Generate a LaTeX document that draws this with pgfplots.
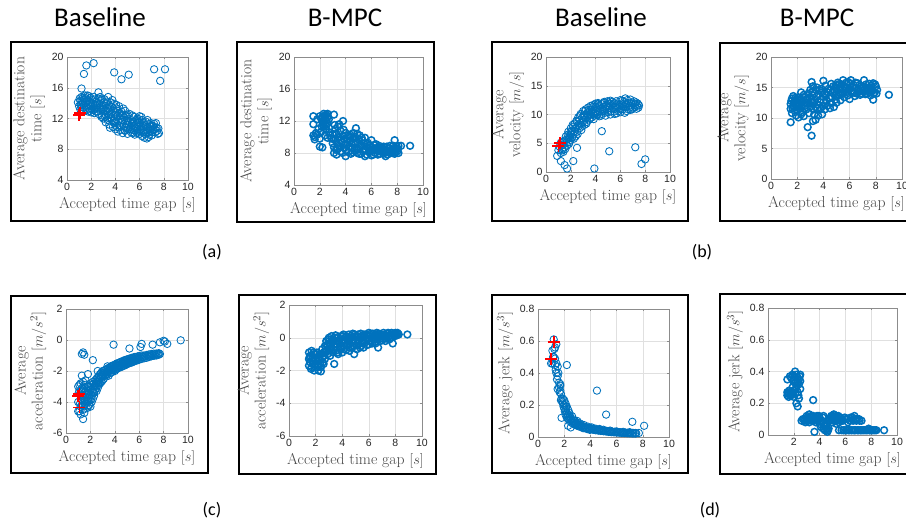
\documentclass[border=0pt]{standalone}
\usepackage{pgfplots}
\pgfplotsset{compat=1.18}
\usepackage{fontspec}
\newfontfamily\tickfont{Liberation Sans}
\newfontfamily\calibri{Carlito}
\definecolor{mblue}{RGB}{0,114,189}
\pgfplotsset{
 mat/.style={
  scale only axis, anchor=south west,
  xmin=0, xmax=10, xtick={0,2,...,10},
  grid=major, grid style={black!12, line width=0.4pt},
  axis line style={black!45, line width=0.6pt},
  major tick style={black!45, line width=0.5pt},
  major tick length=2pt, tick align=inside,
  /pgf/number format/assume math mode=true,
  ticklabel style={font=\tickfont\fontsize{10.5}{10.5}\selectfont, text=black!85},
  label style={font=\fontsize{15.7}{17}\selectfont, text=black!72},
  ylabel style={align=center},
  xlabel={Accepted time gap $[s]$},
 },
 base/.style={only marks, mark=o, mark size=3.7pt, color=mblue, mark options={line width=0.85pt}},
 bmpc/.style={only marks, mark=o, mark size=3.4pt, color=mblue, mark options={line width=1.5pt}},
 rplus/.style={only marks, mark=+, mark size=6pt, color=red, mark options={line width=1.8pt}},
}
\begin{document}
\begin{tikzpicture}
\useasboundingbox (0,0) rectangle (906pt,-522pt);
% frames
\draw[line width=1.3pt] (11pt,-42pt) rectangle (207pt,-221pt);
\draw[line width=1.3pt] (237pt,-42pt) rectangle (434pt,-222pt);
\draw[line width=1.3pt] (492pt,-42pt) rectangle (688pt,-221pt);
\draw[line width=1.3pt] (720pt,-43pt) rectangle (915pt,-221pt);
\draw[line width=1.3pt] (11pt,-296pt) rectangle (208pt,-473pt);
\draw[line width=1.3pt] (239pt,-295pt) rectangle (436pt,-474pt);
\draw[line width=1.3pt] (492pt,-295pt) rectangle (688pt,-473pt);
\draw[line width=1.3pt] (720pt,-294pt) rectangle (915pt,-474pt);
% titles
\node[anchor=base, font=\calibri\fontsize{27}{27}\selectfont] at (100pt,-27pt) {Baseline};
\node[anchor=base, font=\calibri\fontsize{27}{27}\selectfont] at (345pt,-27pt) {B-MPC};
\node[anchor=base, font=\calibri\fontsize{27}{27}\selectfont] at (601pt,-27pt) {Baseline};
\node[anchor=base, font=\calibri\fontsize{27}{27}\selectfont] at (817pt,-27pt) {B-MPC};
\node[font=\calibri\fontsize{18}{18}\selectfont] at (212pt,-252pt) {(a)};
\node[font=\calibri\fontsize{18}{18}\selectfont] at (702pt,-252pt) {(b)};
\node[font=\calibri\fontsize{18}{18}\selectfont] at (212pt,-510pt) {(c)};
\node[font=\calibri\fontsize{18}{18}\selectfont] at (710pt,-510pt) {(d)};

% ---------- A1 ----------
\begin{axis}[mat, at={(67pt,-180pt)}, width=121pt, height=123pt,
  ymin=4, ymax=20, ytick={4,8,...,20}, ylabel={Average destination\\time $[s]$}]
\addplot[base] coordinates {
(0.9,14.1) (1.0,13.6) (1.1,14.3) (1.1,13.2) (1.2,15.9) (1.2,14.8) (1.3,13.9) (1.3,12.9) (1.4,14.5) (1.4,13.4)
(1.5,15.0) (1.5,14.1) (1.6,13.1) (1.6,14.6) (1.7,13.8) (1.8,14.9) (1.8,13.3) (1.9,14.2) (2.0,13.6) (2.0,12.8)
(2.1,14.4) (2.2,13.1) (2.2,14.8) (2.3,13.8) (2.4,12.9) (2.4,14.2) (2.5,13.4) (2.6,14.6) (2.6,12.6) (2.7,13.9)
(2.8,13.2) (2.8,14.3) (2.9,12.4) (3.0,13.7) (3.0,12.0) (3.1,14.5) (3.1,13.0) (3.2,11.5) (3.2,12.5) (3.3,14.2)
(3.3,13.4) (3.4,12.1) (3.4,14.8) (3.5,11.2) (3.5,13.0) (3.6,12.6) (3.6,14.1) (3.7,11.8) (3.7,13.5) (3.8,10.9)
(3.8,12.3) (3.9,13.9) (3.9,11.4) (4.0,12.8) (4.0,10.6) (4.1,13.3) (4.1,11.9) (4.2,10.3) (4.2,12.4) (4.3,11.1)
(4.3,13.6) (4.4,12.0) (4.4,10.5) (4.5,12.9) (4.5,11.5) (4.6,10.1) (4.7,12.2) (4.7,11.0) (4.8,13.0) (4.8,10.4)
(4.9,11.7) (5.0,12.5) (5.0,10.0) (5.1,11.2) (5.1,12.0) (5.2,10.6) (5.3,11.8) (5.3,10.2) (5.4,12.4) (5.4,11.0)
(5.5,10.5) (5.5,11.6) (5.6,9.9) (5.7,11.3) (5.7,10.8) (5.8,12.0) (5.9,10.3) (5.9,11.5) (6.0,12.3) (6.0,10.0)
(6.1,11.0) (6.2,9.7) (6.2,11.8) (6.3,10.5) (6.4,11.2) (6.4,9.5) (6.5,10.2) (6.5,11.6) (6.6,9.4) (6.7,10.8)
(6.8,9.9) (6.8,11.3) (6.9,10.4) (7.0,11.0) (7.0,9.8) (7.1,10.5) (7.2,11.3) (7.3,10.2) (7.4,10.8) (7.5,10.0)
(7.6,10.1) (2.0,14.0) (2.5,14.0) (3.0,13.2) (3.5,12.5) (3.6,13.6) (4.0,11.5) (4.6,12.5) (5.2,11.5) (5.6,10.7)
(6.1,10.6) (6.6,10.5) (6.9,11.0) (1.7,15.0) (1.2,13.5) (4.2,13.0) (3.2,14.0) (2.9,14.5)
(1.4,17.8) (1.6,18.9) (2.2,19.2) (2.6,15.4) (3.9,18.0) (4.5,17.1) (5.1,17.7) (7.2,18.4) (7.7,16.9) (8.1,18.4)
};
\addplot[base] coordinates {
(1.05,14.6) (1.15,13.8) (1.25,14.2) (1.35,13.1) (1.45,14.7) (1.55,13.5) (1.65,14.3) (1.75,12.9) (1.85,13.9) (1.95,14.7)
(2.05,13.2) (2.15,13.9) (2.25,12.7) (2.35,14.5) (2.45,13.6) (2.55,12.9) (2.65,13.3) (2.75,14.8) (2.85,12.2) (2.95,13.5)
(3.05,14.1) (3.15,12.2) (3.25,13.0) (3.35,11.8) (3.45,13.7) (3.55,10.8) (3.65,12.0) (3.75,14.4) (3.85,11.7) (3.95,12.5)
(4.05,13.8) (4.15,10.9) (4.25,11.6) (4.35,12.7) (4.45,10.9) (4.55,11.8) (4.65,13.3) (4.75,10.5) (4.85,12.4) (4.95,11.2)
(5.05,10.6) (5.15,12.6) (5.25,10.9) (5.35,11.4) (5.45,10.1) (5.55,12.2) (5.65,10.4) (5.75,11.8) (5.85,10.6) (5.95,11.9)
(6.05,10.5) (6.15,12.2) (6.25,10.2) (6.35,11.5) (6.45,10.0) (6.55,10.9) (6.65,11.8) (6.75,9.6) (6.85,10.6) (6.95,11.4)
(7.05,10.2) (7.15,11.0) (7.25,10.6) (7.35,11.4) (7.45,10.4) (7.55,10.7) (3.4,13.2) (3.8,13.0) (4.4,12.4) (5.0,11.7)
(5.6,11.0) (6.3,11.0) (6.7,10.2) (2.3,13.3) (1.9,13.0) (1.3,14.7) (3.1,12.6) (4.9,10.8) (5.8,10.1) (6.0,11.5)
};
\addplot[rplus] coordinates {(1.0,12.5) (1.1,12.7)};
\end{axis}

% ---------- A2 ----------
\begin{axis}[mat, at={(294pt,-185pt)}, width=129pt, height=128pt,
  ymin=4, ymax=20, ytick={4,8,...,20}, ylabel={Average destination\\time $[s]$}]
\addplot[bmpc] coordinates {
(1.5,12.6) (1.5,11.6) (1.5,10.2) (1.6,10.0) (1.6,9.7) (1.7,10.5) (1.8,12.2) (1.8,10.3) (1.9,11.0) (2.0,12.6)
(2.0,9.8) (2.0,8.8) (2.1,12.3) (2.1,10.6) (2.2,8.7) (2.2,11.9) (2.3,12.9) (2.3,12.0) (2.3,11.3) (2.4,12.7)
(2.4,11.6) (2.4,10.2) (2.5,12.8) (2.5,12.1) (2.5,11.0) (2.6,12.5) (2.6,11.7) (2.6,9.9) (2.7,12.2) (2.7,10.6)
(2.8,10.2) (2.9,9.8) (3.0,9.2) (3.0,10.4) (3.1,12.8) (3.1,8.0) (3.1,8.7) (3.2,9.6) (3.2,11.0) (3.3,7.8)
(3.3,10.4) (3.4,11.3) (3.4,8.5) (3.5,9.9) (3.5,11.6) (3.6,8.2) (3.6,10.8) (3.7,9.3) (3.8,12.0) (3.8,10.1)
(3.9,8.6) (3.9,9.7) (4.0,7.6) (4.0,10.5) (4.1,9.0) (4.2,10.2) (4.2,8.1) (4.3,9.5) (4.4,7.9) (4.4,10.0)
(4.5,8.7) (4.6,9.8) (4.6,10.5) (4.7,8.3) (4.8,11.1) (4.8,9.2) (4.9,10.4) (4.9,8.0) (5.0,9.7) (5.0,8.5)
(5.1,10.2) (5.2,7.9) (5.2,9.0) (5.3,9.6) (5.4,8.4) (5.5,9.9) (5.5,7.6) (5.6,8.8) (5.7,9.3) (5.8,8.1)
(5.9,8.7) (6.0,9.6) (6.0,7.7) (6.1,8.4) (6.2,9.0) (6.3,8.0) (6.4,8.6) (6.5,7.8) (6.6,8.9) (6.7,8.3)
(6.8,8.7) (6.9,7.9) (7.0,8.5) (7.1,7.6) (7.2,8.8) (7.3,8.1) (7.4,8.6) (7.5,8.0) (7.6,8.4) (7.7,8.9)
(7.8,9.6) (7.8,7.9) (7.9,8.5) (8.0,8.2) (8.1,8.0) (8.1,8.9) (8.3,8.9) (9.0,8.9)
};
\addplot[bmpc] coordinates {
(2.2,12.5) (2.3,11.7) (2.4,12.2) (2.5,11.5) (2.6,12.9) (2.35,12.6) (2.45,11.0) (2.15,11.3) (3.05,9.8) (3.15,11.5)
(3.25,8.4) (3.35,9.1) (3.45,10.0) (3.55,8.8) (3.65,9.6) (3.75,8.0) (3.85,10.9) (3.95,9.1) (4.05,8.3) (4.15,9.8)
(4.25,8.8) (4.35,10.3) (4.45,9.2) (4.55,8.1) (4.65,9.3) (4.75,10.0) (4.85,8.5) (4.95,9.3) (5.05,7.9) (5.15,8.8)
(5.25,9.9) (5.35,8.2) (5.45,9.2) (5.55,8.4) (5.65,7.8) (5.75,8.6) (5.85,9.0) (5.95,8.2) (6.05,8.7) (6.15,7.8)
(6.25,8.4) (6.35,9.1) (6.45,8.3) (6.55,8.7) (6.65,7.9) (6.75,8.5) (6.85,8.2) (6.95,8.8) (7.05,8.0) (7.15,8.4)
(7.25,7.8) (7.35,8.3) (7.45,8.9) (7.55,8.2) (7.65,8.0) (7.75,8.5) (7.85,8.2) (7.95,8.8) (8.05,8.5)
};
\end{axis}

% ---------- B1 ----------
\begin{axis}[mat, at={(546pt,-172pt)}, width=124pt, height=115pt,
  ymin=0, ymax=20, ytick={0,5,...,20}, ylabel={Average\\velocity $[m/s]$}]
\addplot[base] coordinates {
(1.0,3.8) (1.1,4.4) (1.2,3.3) (1.2,5.1) (1.3,4.0) (1.4,4.8) (1.4,3.5) (1.5,5.5) (1.5,4.3) (1.6,6.2)
(1.6,5.0) (1.7,4.6) (1.8,5.8) (1.8,7.0) (1.9,6.3) (1.9,5.2) (2.0,7.6) (2.0,6.7) (2.0,5.6) (2.1,7.2)
(2.1,6.0) (2.2,7.9) (2.2,6.5) (2.3,8.4) (2.3,7.1) (2.4,6.2) (2.4,7.7) (2.5,8.8) (2.5,7.0) (2.6,8.2)
(2.6,9.5) (2.7,7.6) (2.7,9.0) (2.8,8.5) (2.8,10.1) (2.9,7.9) (2.9,9.4) (3.0,10.6) (3.0,8.8) (3.1,9.9)
(3.1,8.2) (3.2,10.9) (3.2,9.3) (3.3,10.2) (3.3,8.7) (3.4,11.2) (3.4,9.7) (3.5,10.5) (3.5,9.1) (3.6,11.5)
(3.6,10.0) (3.7,10.8) (3.7,9.5) (3.8,11.3) (3.8,10.2) (3.9,9.8) (3.9,11.7) (4.0,10.6) (4.0,11.9) (4.1,9.9)
(4.1,11.1) (4.2,12.0) (4.2,10.4) (4.3,11.5) (4.3,9.7) (4.4,10.9) (4.5,11.8) (4.5,10.1) (4.6,11.3) (4.7,12.2)
(4.7,10.6) (4.8,11.0) (4.8,9.8) (4.9,11.7) (5.0,10.4) (5.0,12.1) (5.1,11.2) (5.2,10.0) (5.2,12.4) (5.3,11.0)
(5.4,11.8) (5.5,10.5) (5.5,12.0) (5.6,11.3) (5.7,10.2) (5.8,11.9) (5.9,11.0) (6.0,12.5) (6.0,10.4) (6.1,11.6)
(6.2,10.9) (6.3,12.2) (6.4,11.3) (6.4,12.8) (6.5,10.6) (6.6,12.0) (6.7,11.5) (6.8,12.6) (6.8,10.8) (6.9,11.9)
(7.0,11.2) (7.1,12.3) (7.2,11.7) (7.3,11.0) (7.4,11.9) (7.5,11.6)
(0.9,2.8) (1.2,1.9) (1.5,1.2) (1.7,0.6) (2.2,1.9) (2.5,4.2) (3.9,0.6) (4.5,7.1) (5.1,3.6) (7.2,4.3) (7.7,1.4) (8.0,2.2)
};
\addplot[base] coordinates {
(1.25,4.6) (1.35,3.8) (1.45,5.3) (1.55,4.0) (1.65,5.6) (1.75,6.5) (1.85,4.9) (1.95,6.0) (2.05,7.0) (2.15,8.2)
(2.25,5.8) (2.35,7.5) (2.45,8.9) (2.55,6.6) (2.65,8.0) (2.75,9.8) (2.85,7.3) (2.95,8.6) (3.05,9.6) (3.15,10.6)
(3.25,8.4) (3.35,9.9) (3.45,10.8) (3.55,9.4) (3.65,10.4) (3.75,11.6) (3.85,9.2) (3.95,10.3) (4.05,11.3) (4.15,10.0)
(4.25,11.8) (4.35,10.6) (4.45,9.8) (4.55,11.0) (4.65,12.0) (4.75,10.3) (4.85,11.5) (4.95,12.3) (5.05,10.8) (5.15,11.9)
(5.25,10.5) (5.35,12.2) (5.45,11.2) (5.55,10.1) (5.65,12.3) (5.75,11.1) (5.85,10.6) (5.95,11.7) (6.05,10.9) (6.15,12.4)
(6.25,11.4) (6.35,10.3) (6.45,11.8) (6.55,12.5) (6.65,10.9) (6.75,11.2) (6.85,12.0) (6.95,10.9) (7.05,11.9) (7.15,11.4)
(7.25,12.1) (7.35,11.5) (7.45,11.2) (3.5,10.0) (4.0,10.2) (4.6,10.7) (5.0,11.4) (5.6,11.6) (6.2,11.8) (6.8,11.6)
};
\addplot[rplus] coordinates {(1.0,4.5) (1.1,5.0)};
\end{axis}

% ---------- B2 ----------
\begin{axis}[mat, at={(771pt,-179pt)}, width=131pt, height=122pt,
  ymin=0, ymax=20, ytick={0,5,...,20}, ylabel={Average\\velocity $[m/s]$}]
\addplot[bmpc] coordinates {
(1.5,9.3) (1.5,11.5) (1.5,12.3) (1.6,13.2) (1.6,10.8) (1.7,12.0) (1.7,13.6) (1.8,11.2) (1.8,12.8) (1.9,10.4)
(1.9,13.0) (2.0,11.8) (2.0,12.5) (2.1,10.1) (2.1,13.4) (2.2,11.5) (2.2,12.2) (2.3,14.2) (2.3,10.6) (2.4,12.7)
(2.4,11.0) (2.5,13.8) (2.5,10.3) (2.6,12.0) (2.7,11.4) (2.8,8.5) (2.8,13.2) (2.9,12.4) (2.9,10.8) (3.0,14.6)
(3.0,11.9) (3.1,7.1) (3.1,15.9) (3.1,13.0) (3.2,9.5) (3.2,12.5) (3.2,15.2) (3.3,10.6) (3.3,14.0) (3.4,11.8)
(3.4,9.7) (3.5,13.5) (3.5,15.0) (3.6,12.2) (3.6,10.4) (3.7,14.6) (3.8,11.5) (3.8,13.0) (3.9,10.6) (3.9,14.2)
(4.0,16.1) (4.0,12.6) (4.1,11.4) (4.2,13.8) (4.3,12.0) (4.4,14.8) (4.5,11.6) (4.5,13.3) (4.6,15.6) (4.6,12.4)
(4.7,14.2) (4.8,11.8) (4.9,15.1) (4.9,13.0) (5.0,14.6) (5.0,12.5) (5.1,15.8) (5.2,13.7) (5.3,14.9) (5.3,12.9)
(5.4,15.5) (5.5,14.0) (5.5,16.2) (5.6,13.4) (5.7,15.0) (5.8,14.3) (5.9,15.9) (6.0,13.1) (6.0,14.8) (6.1,16.2)
(6.2,14.1) (6.3,15.4) (6.4,13.6) (6.5,14.9) (6.6,15.7) (6.7,14.3) (6.8,13.8) (6.9,15.2) (7.0,14.5) (7.1,16.2)
(7.2,13.9) (7.3,15.0) (7.4,14.4) (7.5,15.6) (7.6,13.7) (7.7,14.8) (7.8,15.7) (7.8,13.0) (7.9,14.2) (8.0,15.2)
(8.1,14.6) (9.0,13.8)
};
\addplot[bmpc] coordinates {
(1.55,12.8) (1.65,11.6) (1.75,12.5) (1.85,13.3) (1.95,11.9) (2.05,13.0) (2.15,12.0) (2.25,13.1) (2.35,11.8) (2.45,13.4)
(2.55,11.5) (2.65,13.0) (2.75,12.5) (2.85,14.0) (2.95,13.4) (3.05,12.7) (3.15,14.3) (3.25,11.4) (3.35,12.8) (3.45,14.6)
(3.55,11.6) (3.65,13.9) (3.75,12.6) (3.85,14.8) (3.95,12.0) (4.05,14.0) (4.15,15.3) (4.25,12.8) (4.35,14.2) (4.45,13.2)
(4.55,14.6) (4.65,13.5) (4.75,15.2) (4.85,14.4) (4.95,13.8) (5.05,15.4) (5.15,14.2) (5.25,15.6) (5.35,13.9) (5.45,14.7)
(5.55,15.2) (5.65,14.5) (5.75,15.8) (5.85,13.7) (5.95,14.6) (6.05,15.6) (6.15,14.4) (6.25,15.0) (6.35,14.2) (6.45,15.8)
(6.55,14.0) (6.65,14.6) (6.75,15.4) (6.85,14.8) (6.95,14.0) (7.05,15.0) (7.15,14.6) (7.25,15.5) (7.35,14.0) (7.45,14.9)
(7.55,14.2) (7.65,15.3) (7.75,14.5) (7.85,14.0) (7.95,15.5) (8.05,14.0)
};
\end{axis}

% ---------- C1 ----------
\begin{axis}[mat, at={(66pt,-433pt)}, width=122pt, height=124pt,
  ymin=-6, ymax=2, ytick={-6,-4,...,2}, ylabel={Average\\acceleration $[m/s^2]$}]
\addplot[base] coordinates {
(1.0,-3.0) (1.0,-4.0) (1.0,-4.6) (1.1,-3.3) (1.1,-2.9) (1.1,-4.6) (1.2,-2.8) (1.2,-3.8) (1.2,-4.8) (1.2,-4.3)
(1.3,-3.1) (1.3,-4.2) (1.3,-2.3) (1.3,-3.6) (1.4,-3.6) (1.4,-5.1) (1.4,-4.5) (1.4,-2.7) (1.5,-2.9) (1.5,-3.9)
(1.5,-4.7) (1.5,-3.4) (1.6,-3.3) (1.6,-4.1) (1.6,-2.6) (1.6,-3.7) (1.7,-3.7) (1.7,-4.4) (1.7,-3.0) (1.8,-3.0)
(1.8,-3.9) (1.8,-3.5) (1.8,-4.3) (1.9,-3.5) (1.9,-4.2) (1.9,-3.0) (2.0,-3.2) (2.0,-3.9) (2.0,-2.8) (2.0,-4.3)
(2.1,-2.9) (2.1,-3.6) (2.1,-4.0) (2.2,-3.1) (2.2,-3.8) (2.2,-2.7) (2.3,-2.8) (2.3,-3.4) (2.3,-3.6) (2.4,-2.6)
(2.4,-3.2) (2.4,-2.9) (2.5,-2.5) (2.5,-3.0) (2.5,-3.3) (2.6,-2.4) (2.6,-2.8) (2.6,-3.1) (2.7,-2.3) (2.7,-2.7)
(2.7,-2.9) (2.8,-2.2) (2.8,-2.5) (2.8,-2.8) (2.9,-2.1) (2.9,-2.4) (2.9,-2.7) (3.0,-2.0) (3.0,-2.3) (3.0,-2.6)
(3.1,-2.0) (3.1,-2.5) (3.2,-1.95) (3.2,-2.3) (3.3,-1.9) (3.3,-2.35) (3.4,-1.85) (3.4,-2.2) (3.5,-1.8) (3.5,-2.3)
(3.6,-1.75) (3.6,-2.15) (3.7,-1.7) (3.7,-2.1) (3.8,-1.65) (3.8,-2.05) (3.9,-1.65) (3.9,-1.95) (4.0,-1.6) (4.0,-2.0)
(4.1,-1.55) (4.1,-1.9) (4.2,-1.5) (4.2,-1.85) (4.3,-1.5) (4.3,-1.8) (4.4,-1.45) (4.4,-1.75) (4.5,-1.4) (4.5,-1.75)
(4.6,-1.4) (4.6,-1.7) (4.7,-1.35) (4.7,-1.65) (4.8,-1.3) (4.8,-1.65) (4.9,-1.3) (4.9,-1.6) (5.0,-1.25) (5.0,-1.55)
(5.1,-1.25) (5.1,-1.5) (5.2,-1.2) (5.2,-1.5) (5.3,-1.2) (5.3,-1.45) (5.4,-1.15) (5.4,-1.45) (5.5,-1.15) (5.5,-1.4)
(5.6,-1.1) (5.6,-1.35) (5.7,-1.1) (5.7,-1.35) (5.8,-1.1) (5.8,-1.3) (5.9,-1.05) (5.9,-1.3) (6.0,-1.05) (6.0,-1.25)
(6.2,-1.0) (6.2,-1.22) (6.4,-1.0) (6.4,-1.18) (6.6,-0.97) (6.6,-1.15) (6.8,-0.93) (6.8,-1.1) (7.0,-0.9) (7.0,-1.05)
(7.2,-0.88) (7.2,-1.02) (7.4,-0.87) (7.4,-1.0) (7.6,-0.85) (7.6,-0.95) (7.7,-0.9)
(1.3,-0.9) (1.4,-0.8) (1.5,-0.95) (2.2,-1.3) (1.8,-2.2) (2.6,-2.0) (3.4,-1.7) (3.9,-0.3) (5.2,-0.55) (6.1,-0.45)
(6.2,-0.25) (7.1,-0.3) (7.7,-0.15) (8.0,-0.05) (8.1,-0.1) (8.3,-0.25) (9.4,-0.02)
};
\addplot[base] coordinates {
(1.05,-3.4) (1.15,-4.1) (1.25,-3.3) (1.35,-3.9) (1.45,-3.1) (1.55,-4.2) (1.65,-3.5) (1.75,-4.0) (1.85,-3.3) (1.95,-3.8)
(2.05,-3.5) (2.15,-3.3) (2.25,-3.4) (2.35,-3.0) (2.45,-2.8) (2.55,-2.7) (2.65,-2.6) (2.75,-2.5) (2.85,-2.35) (2.95,-2.25)
(3.05,-2.15) (3.15,-2.2) (3.25,-2.1) (3.35,-2.05) (3.45,-2.0) (3.55,-1.95) (3.65,-1.9) (3.75,-1.85) (3.85,-1.85) (3.95,-1.8)
(4.05,-1.75) (4.15,-1.7) (4.25,-1.68) (4.35,-1.62) (4.45,-1.6) (4.55,-1.55) (4.65,-1.52) (4.75,-1.5) (4.85,-1.45) (4.95,-1.42)
(5.05,-1.4) (5.15,-1.38) (5.25,-1.35) (5.35,-1.32) (5.45,-1.3) (5.55,-1.27) (5.65,-1.24) (5.75,-1.2) (5.85,-1.18) (5.95,-1.16)
(6.1,-1.12) (6.3,-1.1) (6.5,-1.06) (6.7,-1.03) (6.9,-1.0) (7.1,-0.97) (7.3,-0.94) (7.5,-0.92)
};
\addplot[rplus] coordinates {(1.0,-3.6) (1.1,-3.5) (1.1,-4.35)};
\end{axis}

% ---------- C2 ----------
\begin{axis}[mat, at={(289pt,-436pt)}, width=133pt, height=131pt,
  ymin=-6, ymax=2, ytick={-6,-4,...,2}, ylabel={Average\\acceleration $[m/s^2]$}]
\addplot[bmpc] coordinates {
(1.5,-0.9) (1.5,-1.3) (1.5,-1.7) (1.6,-1.1) (1.6,-1.5) (1.7,-1.8) (1.7,-0.8) (1.8,-1.2) (1.8,-1.6) (1.9,-2.0)
(1.9,-1.0) (2.0,-1.4) (2.0,-1.8) (2.1,-0.9) (2.1,-1.2) (2.2,-1.6) (2.2,-2.0) (2.3,-1.0) (2.3,-1.4) (2.4,-1.8)
(2.4,-2.05) (2.5,-0.7) (2.5,-1.2) (2.6,-1.6) (2.6,-0.9) (2.7,-0.5) (2.7,-1.3) (2.8,-0.8) (2.8,-0.2) (2.9,-1.0)
(2.9,-0.4) (3.0,0.0) (3.0,-0.7) (3.1,-1.1) (3.1,-0.3) (3.2,0.1) (3.2,-0.6) (3.3,-0.9) (3.3,-0.1) (3.4,-1.6)
(3.4,-0.4) (3.5,0.15) (3.5,-0.8) (3.6,-0.2) (3.6,-0.55) (3.7,0.05) (3.7,-1.0) (3.8,-0.35) (3.9,0.1) (3.9,-0.7)
(4.0,-0.15) (4.0,-0.9) (4.1,0.2) (4.1,-0.5) (4.2,-0.25) (4.3,0.1) (4.3,-0.75) (4.4,-0.4) (4.5,0.2) (4.5,-0.1)
(4.6,-0.6) (4.7,0.0) (4.7,-0.3) (4.8,0.25) (4.9,-1.0) (4.9,-0.5) (5.0,0.1) (5.0,-0.2) (5.1,-0.7) (5.2,0.2)
(5.2,-0.35) (5.3,0.0) (5.4,-0.5) (5.4,0.25) (5.5,-0.15) (5.6,0.15) (5.6,-0.6) (5.7,-0.3) (5.8,0.2) (5.9,-0.05)
(6.0,0.3) (6.0,-0.4) (6.1,0.1) (6.2,-0.2) (6.3,0.25) (6.4,-0.1) (6.5,0.15) (6.5,-0.35) (6.6,0.3) (6.7,-0.6)
(6.8,0.05) (6.9,0.2) (7.0,-0.15) (7.1,0.3) (7.2,0.1) (7.3,-0.05) (7.4,0.25) (7.5,0.15) (7.6,0.0) (7.7,0.3)
(7.8,-0.35) (7.9,0.2) (8.0,0.3) (8.1,0.15) (8.2,0.25) (8.9,0.2)
};
\addplot[bmpc] coordinates {
(1.55,-1.2) (1.65,-1.9) (1.75,-1.4) (1.85,-0.9) (1.95,-1.6) (2.05,-1.0) (2.15,-1.8) (2.25,-1.2) (2.35,-1.6) (2.45,-1.0)
(2.55,-1.5) (2.65,-1.1) (2.75,-0.9) (2.85,-0.5) (2.95,-0.1) (3.05,-0.4) (3.15,-0.8) (3.25,-0.3) (3.35,-0.7) (3.45,0.0)
(3.55,-0.4) (3.65,-0.9) (3.75,-0.2) (3.85,-0.6) (3.95,-0.3) (4.05,0.1) (4.15,-0.7) (4.25,0.0) (4.35,-0.5) (4.45,-0.2)
(4.55,-0.8) (4.65,0.1) (4.75,-0.55) (4.85,-0.15) (4.95,0.2) (5.05,-0.45) (5.15,0.05) (5.25,-0.15) (5.35,-0.6) (5.45,0.1)
(5.55,-0.35) (5.65,0.2) (5.75,-0.1) (5.85,-0.45) (5.95,0.15) (6.05,-0.2) (6.15,0.25) (6.25,-0.35) (6.35,0.05) (6.45,-0.25)
(6.55,0.2) (6.65,-0.1) (6.75,0.25) (6.85,-0.2) (6.95,0.1) (7.05,-0.05) (7.15,0.2) (7.25,-0.2) (7.35,0.1) (7.45,0.3)
(7.55,-0.1) (7.65,0.15) (7.75,0.05) (7.85,0.25) (7.95,0.1) (8.05,0.2) (8.15,0.3) (8.25,0.2)
};
\end{axis}

% ---------- D1 ----------
\begin{axis}[mat, at={(538pt,-437pt)}, width=131pt, height=128pt,
  ymin=0, ymax=0.8, ytick={0,0.2,...,0.8}, ylabel={Average jerk $[m/s^3]$},
  yticklabel style={/pgf/number format/fixed, /pgf/number format/precision=1}]
\addplot[base] coordinates {
(1.0,0.46) (1.1,0.54) (1.2,0.61) (1.2,0.50) (1.3,0.45) (1.3,0.56) (1.4,0.58) (1.4,0.40) (1.4,0.46) (1.5,0.38)
(1.5,0.44) (1.6,0.34) (1.6,0.31) (1.7,0.29) (1.7,0.33) (1.8,0.24) (1.8,0.12) (1.9,0.24) (1.9,0.21) (2.0,0.20)
(2.0,0.23) (2.1,0.17) (2.1,0.21) (2.2,0.45) (2.2,0.15) (2.2,0.19) (2.3,0.07) (2.3,0.14) (2.3,0.17) (2.4,0.12)
(2.4,0.15) (2.5,0.06) (2.5,0.11) (2.6,0.10) (2.6,0.13) (2.7,0.09) (2.7,0.11) (2.8,0.08) (2.8,0.10) (2.9,0.08)
(3.0,0.07) (3.0,0.09) (3.1,0.075) (3.2,0.07) (3.3,0.065) (3.4,0.06) (3.5,0.06) (3.6,0.055) (3.7,0.058) (3.8,0.05)
(3.9,0.054) (4.0,0.048) (4.1,0.05) (4.2,0.045) (4.3,0.047) (4.4,0.042) (4.5,0.29) (4.5,0.044) (4.6,0.04) (4.7,0.042)
(4.8,0.038) (4.9,0.04) (5.0,0.036) (5.1,0.038) (5.2,0.14) (5.2,0.034) (5.3,0.036) (5.4,0.032) (5.5,0.034) (5.6,0.03)
(5.7,0.032) (5.8,0.029) (5.9,0.031) (6.0,0.028) (6.1,0.03) (6.2,0.027) (6.3,0.028) (6.4,0.026) (6.5,0.027) (6.6,0.025)
(6.7,0.026) (6.8,0.024) (6.9,0.025) (7.0,0.023) (7.1,0.025) (7.2,0.095) (7.2,0.022) (7.3,0.024) (7.4,0.022) (7.5,0.023)
(7.7,0.025) (8.1,0.07) (1.1,0.46) (1.3,0.49) (1.5,0.30) (1.7,0.32) (1.75,0.23) (2.0,0.18) (2.1,0.14) (2.2,0.12)
(2.4,0.10) (3.0,0.10) (3.2,0.085) (3.5,0.075) (3.8,0.065) (4.1,0.06) (4.4,0.052) (4.7,0.05) (5.0,0.045) (5.5,0.04)
(6.0,0.035) (6.5,0.032) (7.0,0.03)
};
\addplot[base] coordinates {
(1.15,0.50) (1.25,0.55) (1.35,0.42) (1.45,0.36) (1.55,0.40) (1.65,0.28) (1.75,0.27) (1.85,0.22) (1.95,0.19) (2.05,0.16)
(2.15,0.19) (2.25,0.13) (2.35,0.11) (2.45,0.13) (2.55,0.09) (2.65,0.085) (2.75,0.10) (2.85,0.075) (2.95,0.085) (3.05,0.08)
(3.15,0.065) (3.25,0.075) (3.35,0.07) (3.45,0.055) (3.55,0.065) (3.65,0.06) (3.75,0.05) (3.85,0.058) (3.95,0.045) (4.05,0.055)
(4.25,0.05) (4.45,0.047) (4.65,0.045) (4.85,0.042) (5.05,0.04) (5.25,0.038) (5.45,0.036) (5.65,0.034) (5.85,0.033) (6.05,0.031)
(6.25,0.03) (6.45,0.029) (6.65,0.028) (6.85,0.027) (7.05,0.026) (7.25,0.026) (7.45,0.025)
};
\addplot[rplus] coordinates {(1.2,0.595) (1.0,0.49)};
\end{axis}

% ---------- D2 ----------
\begin{axis}[mat, at={(768pt,-435pt)}, width=129pt, height=127pt,
  xtick={2,4,...,10},
  ymin=0, ymax=0.8, ytick={0,0.2,...,0.8}, ylabel={Average jerk $[m/s^3]$},
  yticklabel style={/pgf/number format/fixed, /pgf/number format/precision=1}]
\addplot[bmpc] coordinates {
(1.5,0.35) (1.5,0.27) (1.5,0.25) (1.6,0.26) (1.6,0.24) (1.7,0.37) (1.7,0.27) (1.8,0.36) (1.8,0.25) (1.9,0.38)
(1.9,0.26) (1.9,0.30) (2.0,0.35) (2.0,0.28) (2.0,0.24) (2.1,0.40) (2.1,0.33) (2.1,0.26) (2.2,0.38) (2.2,0.30)
(2.2,0.20) (2.3,0.36) (2.3,0.27) (2.3,0.18) (2.4,0.35) (2.4,0.32) (2.4,0.23) (2.5,0.38) (2.5,0.29) (2.5,0.34)
(2.6,0.09) (2.8,0.10) (2.9,0.08) (3.0,0.12) (3.0,0.09) (3.1,0.10) (3.2,0.13) (3.2,0.08) (3.3,0.11) (3.4,0.09)
(3.5,0.22) (3.5,0.12) (3.6,0.02) (3.6,0.10) (3.7,0.08) (3.8,0.12) (3.9,0.10) (4.0,0.07) (4.0,0.11) (4.1,0.05)
(4.2,0.09) (4.3,0.04) (4.3,0.12) (4.4,0.03) (4.5,0.06) (4.6,0.02) (4.7,0.04) (4.8,0.10) (4.9,0.12) (5.0,0.08)
(5.0,0.11) (5.1,0.13) (5.2,0.09) (5.3,0.12) (5.3,0.07) (5.4,0.10) (5.5,0.03) (5.5,0.08) (5.6,0.11) (5.7,0.03)
(5.8,0.09) (5.9,0.03) (6.0,0.10) (6.1,0.03) (6.2,0.08) (6.3,0.03) (6.4,0.11) (6.5,0.03) (6.6,0.09) (6.7,0.12)
(6.7,0.03) (6.8,0.03) (6.9,0.10) (7.0,0.03) (7.1,0.09) (7.2,0.03) (7.3,0.03) (7.5,0.03) (7.7,0.03) (7.8,0.04)
(7.9,0.03) (8.0,0.03) (8.2,0.03) (8.4,0.03) (9.0,0.03)
};
\addplot[bmpc] coordinates {
(1.55,0.26) (1.65,0.28) (1.75,0.25) (1.85,0.27) (1.95,0.34) (2.05,0.37) (2.15,0.29) (2.25,0.33) (2.35,0.25) (2.45,0.37)
(2.7,0.10) (2.85,0.09) (3.05,0.11) (3.15,0.09) (3.25,0.10) (3.35,0.12) (3.45,0.10) (3.55,0.09) (3.65,0.11) (3.75,0.10)
(3.85,0.09) (3.95,0.12) (4.05,0.09) (4.15,0.08) (4.25,0.11) (4.35,0.06) (4.45,0.05) (4.55,0.04) (4.65,0.03) (4.75,0.09)
(4.85,0.11) (4.95,0.10) (5.05,0.12) (5.15,0.10) (5.25,0.11) (5.35,0.09) (5.45,0.12) (5.55,0.10) (5.65,0.09) (5.75,0.10)
(5.85,0.03) (5.95,0.11) (6.05,0.03) (6.15,0.10) (6.25,0.03) (6.35,0.09) (6.45,0.03) (6.55,0.11) (6.65,0.03) (6.75,0.10)
(6.85,0.09) (6.95,0.03) (7.05,0.10) (7.15,0.03) (7.25,0.09) (7.4,0.03) (7.6,0.03) (7.85,0.03) (8.1,0.03) (8.3,0.03)
};
\end{axis}
\end{tikzpicture}
\end{document}
